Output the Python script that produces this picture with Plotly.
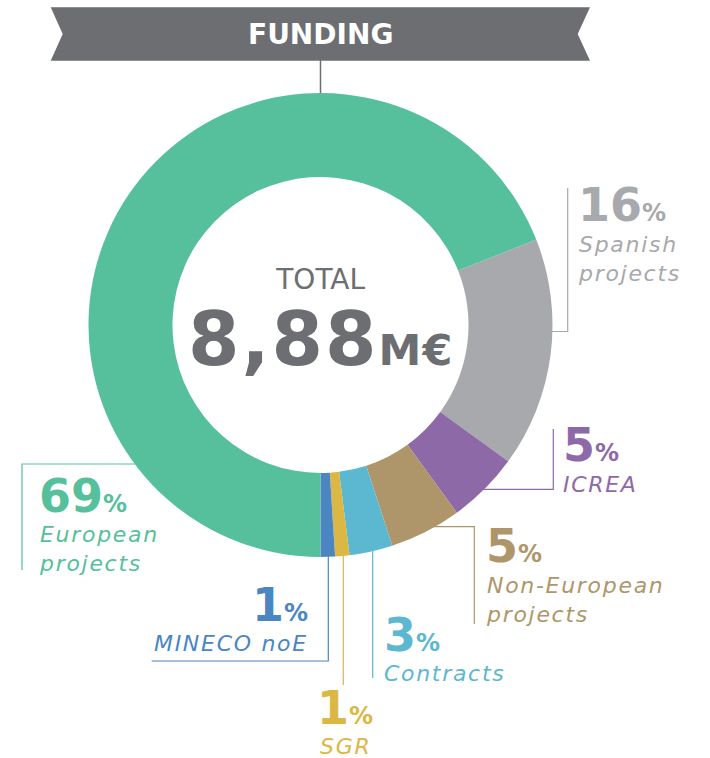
import plotly.graph_objects as go

# ---- data ----
categories = ["Spanish projects", "ICREA", "Non-European projects", "Contracts",
              "SGR", "MINECO noE", "European projects"]
label_lines = [["Spanish", "projects"], ["ICREA"], ["Non-European", "projects"], ["Contracts"],
               ["SGR"], ["MINECO noE"], ["European", "projects"]]
values = [16, 5, 5, 3, 1, 1, 69]
colors = ["#a7a9ac", "#8e69a8", "#af966a", "#5bb8d0", "#dbb845", "#4b86c2", "#56bf9b"]
title_text = "FUNDING"
total_label = "TOTAL"
total_value = "8,88"
total_unit = "M€"

W, H = 710, 758
DARK = "#6d6e71"
FONT = "DejaVu Sans"

# donut geometry (pixels)
cx, cy, R = 320.5, 325, 232
hole = 0.638

# first slice (Spanish) starts so that European begins at 6 o'clock
rotation = 180 - sum(values[:-1]) / sum(values) * 360

fig = go.Figure()
fig.add_trace(go.Pie(
    values=values, labels=categories, sort=False, direction="clockwise",
    rotation=rotation, hole=hole, textinfo="none", hoverinfo="skip",
    marker=dict(colors=colors, line=dict(width=0)),
    domain=dict(x=[(cx - R) / W, (cx + R) / W],
                y=[(H - cy - R) / H, (H - cy + R) / H]),
    showlegend=False,
))

shapes = []
# banner
shapes.append(dict(type="path", xref="x", yref="y",
                   path="M 50.7 7.3 L 590 7.3 L 577.7 34 L 590 60.7 L 50.7 60.7 L 62.7 34 Z",
                   fillcolor=DARK, line=dict(width=0), layer="above"))
shapes.append(dict(type="line", xref="x", yref="y", x0=320.5, x1=320.5, y0=60, y1=94,
                   line=dict(color=DARK, width=1.5), layer="below"))

# connectors: list of polylines per category index
connectors = {
    0: [(551, 331.5), (567.7, 331.5), (567.7, 188)],
    1: [(480, 489.3), (553.3, 489.3), (553.3, 429)],
    2: [(430, 526.7), (474.3, 526.7), (474.3, 624)],
    3: [(372.7, 550), (372.7, 678)],
    4: [(343.3, 554), (343.3, 685)],
    5: [(328.3, 555), (328.3, 661), (151.7, 661)],
    6: [(135, 464), (22, 464), (22, 570)],
}
for i, pts in connectors.items():
    path = "M " + " L ".join(f"{x} {y}" for x, y in pts)
    shapes.append(dict(type="path", xref="x", yref="y", path=path,
                       line=dict(color=colors[i], width=1.2), layer="below"))

annotations = []
NUM = 46
PCT = 24
LAB = 22
LS = 1.7  # letter spacing for the italic labels

def num_text(v):
    return f"<b>{v}</b><span style='font-size:{PCT}px'><b>%</b></span>"

def lab_text(lines):
    return "<br>".join(f"<span style='letter-spacing:{LS}px'>{t}</span>" for t in lines)

# (x, anchor, number baseline, label first baseline)
label_pos = {
    0: (576, "left", 222, 251),
    1: (561, "left", 462, 491),
    2: (484, "left", 563, 592),
    3: (382, "left", 652, 680),
    4: (345, "center", 725, 753),
    5: (310, "right", 622, 650),
    6: (37, "left", 513, 541),
}
for i, (x, anc, nb, lb) in label_pos.items():
    annotations.append(dict(xref="x", yref="y", x=x, y=nb + 1 + 0.236 * NUM,
                            xanchor=anc, yanchor="bottom", showarrow=False,
                            text=num_text(values[i]), align=anc,
                            font=dict(family=FONT, size=NUM, color=colors[i])))
    annotations.append(dict(xref="x", yref="y", x=x, y=lb - 0.928 * LAB - 1,
                            xanchor=anc, yanchor="top", showarrow=False,
                            text=lab_text(label_lines[i]), align=anc,
                            font=dict(family=FONT, size=LAB, color=colors[i], style="italic")))

# title
annotations.append(dict(xref="x", yref="y", x=320.5, y=34.5, xanchor="center", yanchor="middle",
                        showarrow=False, text=f"<b>{title_text}</b>",
                        font=dict(family=FONT, size=28, color="white")))
# center total (two lines in one text block; base size sets the line gap)
BIG = 74
annotations.append(dict(xref="x", yref="y", x=320.5, y=365.5 + 1 + 0.236 * BIG,
                        xanchor="center", yanchor="bottom", showarrow=False, align="center",
                        text=(f"<span style='font-size:28px'>{total_label}</span><br>"
                              f"<span style='font-size:{BIG}px;letter-spacing:2px'><b>{total_value}</b></span>"
                              f"<span style='font-size:43px;letter-spacing:1px'><b>{total_unit}</b></span>"),
                        font=dict(family=FONT, size=58.5, color=DARK)))

fig.update_layout(
    width=W, height=H, margin=dict(l=0, r=0, t=0, b=0),
    paper_bgcolor="white", plot_bgcolor="rgba(0,0,0,0)",
    xaxis=dict(range=[0, W], visible=False, fixedrange=True),
    yaxis=dict(range=[H, 0], visible=False, fixedrange=True),
    shapes=shapes, annotations=annotations, showlegend=False,
)

fig.write_html("out.html", config={"displayModeBar": False},
               post_script="document.body.style.margin='0';document.body.style.padding='0';"
                           "document.body.style.overflow='hidden';")
